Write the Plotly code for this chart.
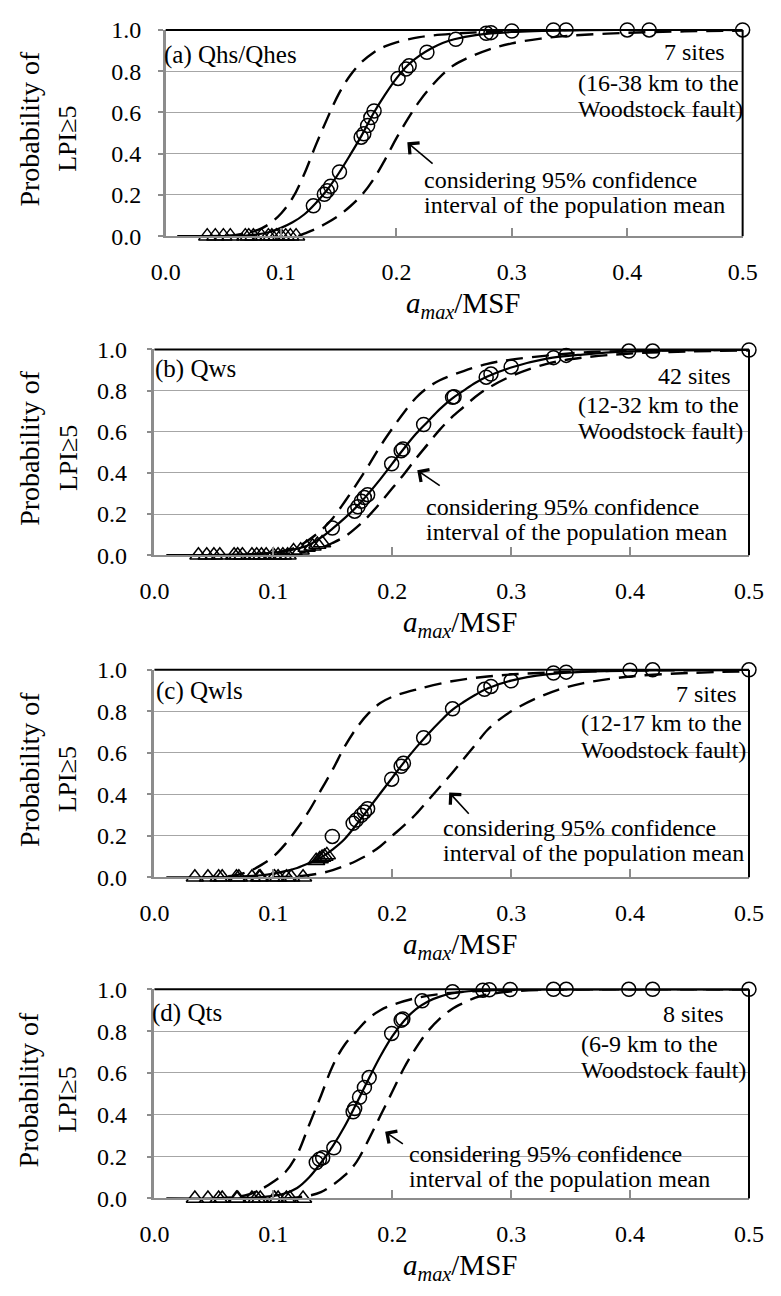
import plotly.graph_objects as go

# ---------------------------------------------------------------- data
# (a) Qhs/Qhes
a_fit_x = [0.01, 0.05, 0.07, 0.08, 0.09, 0.10, 0.11, 0.12, 0.13, 0.14, 0.15, 0.16, 0.17,
           0.18, 0.19, 0.20, 0.21, 0.22, 0.23, 0.24, 0.25, 0.27, 0.30, 0.35, 0.40, 0.50]
a_fit_y = [0.0, 0.0, 0.003, 0.009, 0.02, 0.04, 0.067, 0.105, 0.16, 0.225, 0.305, 0.395, 0.49,
           0.595, 0.685, 0.765, 0.83, 0.875, 0.91, 0.937, 0.955, 0.976, 0.99, 0.998, 1.0, 1.0]
a_left_x = [0.03, 0.06, 0.07, 0.08, 0.09, 0.10, 0.11, 0.12, 0.13, 0.14, 0.15, 0.16, 0.17,
            0.18, 0.19, 0.20, 0.22, 0.25, 0.30, 0.35, 0.50]
a_left_y = [0.0, 0.005, 0.015, 0.03, 0.06, 0.11, 0.185, 0.30, 0.44, 0.57, 0.69, 0.78, 0.845,
            0.89, 0.92, 0.94, 0.965, 0.982, 0.995, 1.0, 1.0]
a_right_x = [0.115, 0.12, 0.13, 0.14, 0.15, 0.16, 0.17, 0.18, 0.19, 0.20, 0.21, 0.22, 0.23,
             0.24, 0.25, 0.26, 0.28, 0.30, 0.325, 0.35, 0.40, 0.45, 0.50]
a_right_y = [0.0, 0.012, 0.035, 0.065, 0.10, 0.145, 0.20, 0.275, 0.37, 0.475, 0.57, 0.655, 0.725,
             0.785, 0.83, 0.86, 0.905, 0.935, 0.958, 0.972, 0.986, 0.993, 0.997]
a_liq_x = [0.128, 0.1375, 0.14, 0.143, 0.1506, 0.1694, 0.1717, 0.175, 0.1778, 0.1806, 0.2014,
           0.2083, 0.211, 0.2264, 0.2514, 0.2778, 0.2819, 0.30, 0.336, 0.347, 0.40, 0.419, 0.50]
a_liq_y = [0.147, 0.203, 0.22, 0.242, 0.311, 0.48, 0.496, 0.536, 0.575, 0.607, 0.765,
           0.81, 0.826, 0.892, 0.955, 0.984, 0.987, 0.995, 1.0, 1.0, 1.0, 1.0, 1.0]
a_non_x = [0.036, 0.043, 0.050, 0.056, 0.069, 0.072, 0.076, 0.083, 0.089, 0.092, 0.096,
           0.100, 0.104, 0.108, 0.113]
a_non_y = [0.0] * 15

# (b) Qws
b_fit_x = [0.01, 0.05, 0.08, 0.10, 0.11, 0.12, 0.13, 0.14, 0.15, 0.16, 0.17, 0.18, 0.19, 0.20,
           0.21, 0.22, 0.23, 0.24, 0.25, 0.26, 0.27, 0.28, 0.30, 0.33, 0.36, 0.40, 0.45, 0.50]
b_fit_y = [0.0, 0.001, 0.005, 0.012, 0.02, 0.032, 0.05, 0.085, 0.13, 0.18, 0.235, 0.30, 0.37,
           0.445, 0.52, 0.59, 0.65, 0.71, 0.76, 0.80, 0.838, 0.868, 0.912, 0.955, 0.975, 0.99,
           0.996, 0.998]
b_left_x = [0.06, 0.08, 0.10, 0.11, 0.12, 0.13, 0.14, 0.15, 0.16, 0.17, 0.18, 0.19, 0.20, 0.21,
            0.22, 0.23, 0.24, 0.26, 0.28, 0.30, 0.33, 0.36, 0.40, 0.50]
b_left_y = [0.0, 0.003, 0.012, 0.022, 0.04, 0.075, 0.12, 0.18, 0.26, 0.345, 0.435, 0.53, 0.615,
            0.695, 0.765, 0.815, 0.85, 0.895, 0.93, 0.95, 0.97, 0.985, 0.993, 0.998]
b_right_x = [0.10, 0.12, 0.13, 0.14, 0.15, 0.16, 0.17, 0.18, 0.19, 0.20, 0.21, 0.22, 0.23, 0.24,
             0.25, 0.26, 0.27, 0.28, 0.30, 0.33, 0.36, 0.40, 0.45, 0.50]
b_right_y = [0.003, 0.012, 0.02, 0.035, 0.06, 0.09, 0.135, 0.19, 0.255, 0.325, 0.395, 0.47, 0.54,
             0.61, 0.67, 0.72, 0.77, 0.81, 0.87, 0.93, 0.96, 0.98, 0.99, 0.995]
b_liq_x = [0.1496, 0.1684, 0.1711, 0.174, 0.1765, 0.1793, 0.1995, 0.2075, 0.209, 0.2264, 0.2507,
           0.252, 0.279, 0.283, 0.30, 0.3356, 0.3463, 0.3989, 0.419, 0.50]
b_liq_y = [0.132, 0.214, 0.235, 0.262, 0.28, 0.294, 0.444, 0.508, 0.516, 0.635, 0.767,
           0.77, 0.865, 0.88, 0.915, 0.96, 0.971, 0.992, 0.992, 0.997]
b_non_x = [0.037, 0.044, 0.050, 0.055, 0.067, 0.070, 0.074, 0.082, 0.086, 0.090, 0.094, 0.100,
           0.104, 0.108, 0.112, 0.117, 0.123, 0.128, 0.133, 0.137, 0.141]
b_non_y = [0.0, 0.0, 0.0, 0.0, 0.0, 0.0, 0.0, 0.0, 0.0, 0.0, 0.0, 0.0,
           0.0, 0.0, 0.0, 0.02, 0.024, 0.037, 0.043, 0.052, 0.059]

# (c) Qwls
c_fit_x = [0.01, 0.05, 0.07, 0.09, 0.10, 0.11, 0.12, 0.13, 0.14, 0.15, 0.16, 0.17, 0.18, 0.19,
           0.20, 0.21, 0.22, 0.23, 0.24, 0.25, 0.26, 0.27, 0.28, 0.30, 0.33, 0.36, 0.40, 0.50]
c_fit_y = [0.0, 0.0, 0.003, 0.01, 0.018, 0.03, 0.045, 0.068, 0.095, 0.135, 0.185, 0.255, 0.33,
           0.405, 0.48, 0.555, 0.625, 0.69, 0.75, 0.805, 0.845, 0.88, 0.91, 0.948, 0.978, 0.99,
           0.997, 1.0]
c_left_x = [0.04, 0.06, 0.07, 0.08, 0.09, 0.10, 0.11, 0.12, 0.13, 0.14, 0.15, 0.16, 0.17, 0.18,
            0.19, 0.20, 0.22, 0.25, 0.28, 0.31, 0.35, 0.40, 0.50]
c_left_y = [0.0, 0.005, 0.012, 0.03, 0.06, 0.10, 0.16, 0.235, 0.32, 0.42, 0.52, 0.63, 0.72, 0.79,
            0.84, 0.87, 0.905, 0.945, 0.968, 0.981, 0.99, 0.996, 1.0]
c_right_x = [0.10, 0.12, 0.14, 0.15, 0.16, 0.17, 0.18, 0.19, 0.20, 0.21, 0.22, 0.23, 0.24, 0.25,
             0.26, 0.27, 0.28, 0.29, 0.30, 0.32, 0.34, 0.36, 0.40, 0.45, 0.50]
c_right_y = [0.0, 0.005, 0.02, 0.035, 0.055, 0.08, 0.11, 0.15, 0.20, 0.25, 0.305, 0.37, 0.435,
             0.50, 0.57, 0.64, 0.71, 0.76, 0.80, 0.86, 0.905, 0.935, 0.968, 0.985, 0.993]
c_liq_x = [0.1496, 0.1671, 0.1698, 0.1739, 0.1766, 0.1793, 0.1995, 0.2075, 0.2094, 0.2264,
           0.2507, 0.2776, 0.283, 0.30, 0.3356, 0.3463, 0.3999, 0.419, 0.50]
c_liq_y = [0.197, 0.26, 0.276, 0.299, 0.315, 0.331, 0.473, 0.535, 0.55, 0.673,
           0.812, 0.906, 0.92, 0.947, 0.985, 0.989, 0.998, 1.0, 1.0]
c_non_x = [0.034, 0.045, 0.054, 0.057, 0.069, 0.071, 0.082, 0.088, 0.089, 0.101, 0.104, 0.111,
           0.115, 0.125, 0.136, 0.139, 0.141, 0.143, 0.145]
c_non_y = [0.0] * 14 + [0.08, 0.088, 0.095, 0.10, 0.108]

# (d) Qts
d_fit_x = [0.01, 0.06, 0.08, 0.09, 0.10, 0.11, 0.12, 0.13, 0.14, 0.15, 0.16, 0.17, 0.18, 0.19,
           0.20, 0.21, 0.22, 0.23, 0.24, 0.25, 0.27, 0.30, 0.35, 0.50]
d_fit_y = [0.0, 0.0, 0.003, 0.006, 0.012, 0.025, 0.05, 0.10, 0.17, 0.25, 0.345, 0.455, 0.57,
           0.68, 0.775, 0.85, 0.905, 0.942, 0.965, 0.98, 0.993, 0.998, 1.0, 1.0]
d_left_x = [0.05, 0.07, 0.08, 0.09, 0.10, 0.11, 0.12, 0.13, 0.14, 0.15, 0.16, 0.17, 0.18, 0.19,
            0.20, 0.22, 0.24, 0.26, 0.30, 0.35, 0.50]
d_left_y = [0.0, 0.008, 0.02, 0.045, 0.08, 0.125, 0.21, 0.35, 0.49, 0.635, 0.735, 0.80, 0.86,
            0.90, 0.925, 0.958, 0.977, 0.988, 0.997, 1.0, 1.0]
d_right_x = [0.11, 0.12, 0.13, 0.14, 0.15, 0.16, 0.17, 0.18, 0.19, 0.20, 0.21, 0.22, 0.23, 0.24,
             0.25, 0.26, 0.27, 0.28, 0.30, 0.35, 0.50]
d_right_y = [0.0, 0.005, 0.013, 0.03, 0.065, 0.11, 0.175, 0.28, 0.395, 0.51, 0.625, 0.72, 0.80,
             0.86, 0.905, 0.935, 0.96, 0.975, 0.99, 0.999, 1.0]
d_liq_x = [0.1361, 0.1388, 0.1415, 0.1509, 0.1671, 0.1684, 0.1725, 0.1766, 0.1806, 0.1995,
           0.2075, 0.2089, 0.2251, 0.2507, 0.2762, 0.2816, 0.2992, 0.3356, 0.3463, 0.3989,
           0.419, 0.50]
d_liq_y = [0.172, 0.1875, 0.195, 0.242, 0.414, 0.43, 0.484, 0.531, 0.578, 0.789,
           0.852, 0.858, 0.945, 0.988, 0.996, 0.998, 0.999, 1.0, 1.0, 1.0, 1.0, 1.0]
d_non_x = [0.034, 0.045, 0.054, 0.057, 0.069, 0.070, 0.082, 0.086, 0.089, 0.101, 0.104, 0.111,
           0.114, 0.125]
d_non_y = [0.0] * 14

panel_titles = ["(a) Qhs/Qhes", "(b) Qws", "(c) Qwls", "(d) Qts"]
site_counts = ["7 sites", "42 sites", "7 sites", "8 sites"]
site_ranges = ["(16-38 km to the", "(12-32 km to the", "(12-17 km to the", "(6-9 km to the"]
x_ticks = [0.0, 0.1, 0.2, 0.3, 0.4, 0.5]
y_ticks = [0.0, 0.2, 0.4, 0.6, 0.8, 1.0]
# arrow (head x, head y, tail x, tail y) in data units
arrows = [(0.2094, 0.455, 0.2326, 0.345),
          (0.221, 0.413, 0.2412, 0.333),
          (0.2479, 0.409, 0.2655, 0.299),
          (0.194, 0.319, 0.2102, 0.256)]

panels = [
    (a_fit_x, a_fit_y, a_left_x, a_left_y, a_right_x, a_right_y, a_liq_x, a_liq_y, a_non_x, a_non_y),
    (b_fit_x, b_fit_y, b_left_x, b_left_y, b_right_x, b_right_y, b_liq_x, b_liq_y, b_non_x, b_non_y),
    (c_fit_x, c_fit_y, c_left_x, c_left_y, c_right_x, c_right_y, c_liq_x, c_liq_y, c_non_x, c_non_y),
    (d_fit_x, d_fit_y, d_left_x, d_left_y, d_right_x, d_right_y, d_liq_x, d_liq_y, d_non_x, d_non_y),
]

# ---------------------------------------------------------------- layout geometry (pixels)
W, H = 781, 1296
# left, right, top, bottom of each plot area
frames = [(156.7, 756.7, 17.3, 227.7),
          (145.0, 763.3, 343.3, 553.3),
          (145.0, 763.3, 670.3, 882.0),
          (145.0, 763.3, 996.3, 1209.7)]
# per-panel text placement offsets (pixels, relative to plot area)
title_dx = [-4, -1, 0, -5]
title_dy = [25.7, 20.0, 21.4, 23.7]
count_left = [673, 667, 685, 672]
range_left = [583, 583, 587, 587]
box_dy = [(22.7, 54.4, 80.7), (26.7, 56.7, 83.4), (24.7, 54.7, 81.4), (25.3, 55.3, 82.0)]
note_left = [423, 425, 443, 408]
note_dy = [(152.7, 178.4), (160.7, 186.0), (161.7, 186.7), (168.5, 194.0)]
ytick_standoff = [12, 15, 15, 15]

FONT = "Liberation Serif"
AXIS_GRAY = "#8c8c8c"
GRID_GRAY = "#a6a6a6"


def px(x):
    return x / W


def py(y):
    return 1 - y / H


def white_box(x0, x1, y0, y1):
    # opaque text-box fill that hides gridlines but stays under the curves
    return dict(type="rect", xref="paper", yref="paper", x0=px(x0), x1=px(x1),
                y0=py(y1), y1=py(y0), fillcolor="white", line=dict(width=0),
                layer="between")


fig = go.Figure()
annotations = []
shapes = []

for i, (frame, data) in enumerate(zip(frames, panels)):
    n = i + 1
    xa = f"x{n}" if n > 1 else "x"
    ya = f"y{n}" if n > 1 else "y"
    left, right, top, bottom = frame
    fx, fy, lx, ly, rx, ry, cx, cy, tx, ty = data

    dash_style = dict(color="black", width=2.4, dash="17px,9px")
    fig.add_trace(go.Scatter(x=lx, y=ly, mode="lines", line=dash_style, line_shape="spline",
                             xaxis=xa, yaxis=ya, showlegend=False, cliponaxis=False))
    fig.add_trace(go.Scatter(x=rx, y=ry, mode="lines", line=dash_style, line_shape="spline",
                             xaxis=xa, yaxis=ya, showlegend=False, cliponaxis=False))
    fig.add_trace(go.Scatter(x=fx, y=fy, mode="lines", line=dict(color="black", width=2.2),
                             line_shape="spline", xaxis=xa, yaxis=ya, showlegend=False,
                             cliponaxis=False))
    fig.add_trace(go.Scatter(x=tx, y=ty, mode="markers",
                             marker=dict(symbol="triangle-up-open", size=15,
                                         color="black", line=dict(width=1.5)),
                             xaxis=xa, yaxis=ya, showlegend=False, cliponaxis=False))
    fig.add_trace(go.Scatter(x=cx, y=cy, mode="markers",
                             marker=dict(symbol="circle-open", size=14,
                                         color="black", line=dict(width=1.5)),
                             xaxis=xa, yaxis=ya, showlegend=False, cliponaxis=False))

    xkey = "xaxis" if n == 1 else f"xaxis{n}"
    ykey = "yaxis" if n == 1 else f"yaxis{n}"
    fig.update_layout(**{
        xkey: dict(domain=[px(left), px(right)], anchor=ya, range=[0, 0.5],
                   tickvals=x_ticks, ticktext=[f"{v:.1f}" for v in x_ticks],
                   ticks="inside", ticklen=8, tickwidth=1.5, tickcolor=AXIS_GRAY,
                   showline=True, linecolor=AXIS_GRAY, linewidth=2, showgrid=False,
                   zeroline=False, ticklabelstandoff=13,
                   tickfont=dict(family=FONT, size=24, color="black")),
        ykey: dict(domain=[py(bottom), py(top)], anchor=xa, range=[0, 1],
                   tickvals=y_ticks, ticktext=[f"{v:.1f}" for v in y_ticks],
                   ticks="outside", ticklen=5, tickwidth=1.5, tickcolor=AXIS_GRAY,
                   showline=True, linecolor=AXIS_GRAY, linewidth=2.5, showgrid=True,
                   gridcolor=GRID_GRAY, gridwidth=1, zeroline=False,
                   ticklabelstandoff=ytick_standoff[i],
                   tickfont=dict(family=FONT, size=24, color="black")),
    })

    # black frame on the top and right of the plot area
    shapes.append(dict(type="line", xref=f"{xa} domain", yref=f"{ya} domain",
                       x0=0, x1=1, y0=1, y1=1, line=dict(color="black", width=2)))
    shapes.append(dict(type="line", xref=f"{xa} domain", yref=f"{ya} domain",
                       x0=1, x1=1, y0=0, y1=1, line=dict(color="black", width=2)))

    # white text boxes
    shapes.append(white_box(range_left[i] - 3, right - 8, top + box_dy[i][0] - 14,
                            top + box_dy[i][2] + 15))
    shapes.append(white_box(note_left[i] - 4, note_left[i] + 312, top + note_dy[i][0] - 14,
                            top + note_dy[i][1] + 15))

    mid = (top + bottom) / 2
    # y-axis title in two rotated lines
    annotations.append(dict(x=px(15), y=py(mid - 4), xref="paper", yref="paper",
                            text="Probability of", textangle=-90, showarrow=False,
                            xanchor="center", yanchor="middle",
                            font=dict(family=FONT, size=28, color="black")))
    annotations.append(dict(x=px(55), y=py(mid + 6), xref="paper", yref="paper",
                            text="LPI≥5", textangle=-90, showarrow=False,
                            xanchor="center", yanchor="middle",
                            font=dict(family=FONT, size=26, color="black")))
    # x-axis title
    annotations.append(dict(x=px((left + right) / 2 + 9), y=py(bottom + 70),
                            xref="paper", yref="paper",
                            text="<i>a</i><sub><i>max</i></sub>/MSF", showarrow=False,
                            xanchor="center", yanchor="middle",
                            font=dict(family=FONT, size=29, color="black")))
    # panel label
    annotations.append(dict(x=px(left + title_dx[i]), y=py(top + title_dy[i]),
                            xref="paper", yref="paper", text=panel_titles[i],
                            showarrow=False, xanchor="left", yanchor="middle",
                            font=dict(family=FONT, size=25, color="black")))
    # site description
    for txt, xl, dy in zip([site_counts[i], site_ranges[i], "Woodstock fault)"],
                           [count_left[i], range_left[i], range_left[i]], box_dy[i]):
        annotations.append(dict(x=px(xl), y=py(top + dy), xref="paper", yref="paper",
                                text=txt, showarrow=False, xanchor="left", yanchor="middle",
                                font=dict(family=FONT, size=24, color="black")))
    # confidence-band note
    for txt, dy in zip(["considering 95% confidence", "interval of the population mean"],
                       note_dy[i]):
        annotations.append(dict(x=px(note_left[i]), y=py(top + dy), xref="paper",
                                yref="paper", text=txt, showarrow=False, xanchor="left",
                                yanchor="middle",
                                font=dict(family=FONT, size=24, color="black")))
    hx, hy, ax_, ay_ = arrows[i]
    annotations.append(dict(x=hx, y=hy, ax=ax_, ay=ay_, xref=xa, yref=ya, axref=xa,
                            ayref=ya, text="", showarrow=True, arrowhead=4, arrowsize=1.8,
                            arrowwidth=1.6, arrowcolor="black"))

fig.update_layout(width=W, height=H, margin=dict(l=0, r=0, t=0, b=0),
                  paper_bgcolor="white", plot_bgcolor="white",
                  annotations=annotations, shapes=shapes, showlegend=False)

fig.write_html("out.html")
